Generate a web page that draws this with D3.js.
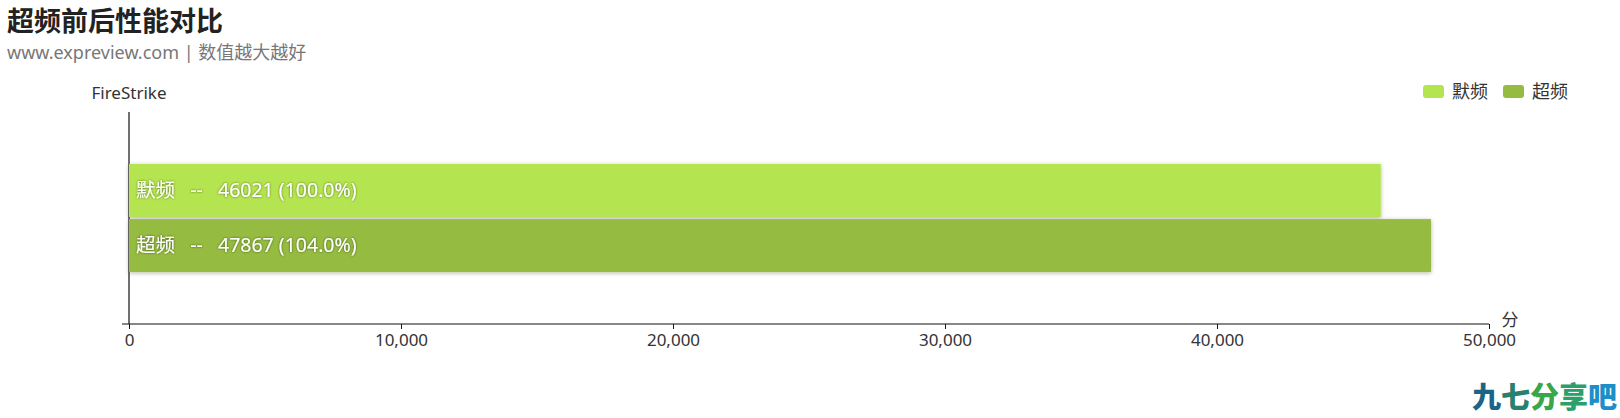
<!DOCTYPE html>
<html><head><meta charset="utf-8">
<script src="https://cdn.jsdelivr.net/npm/d3@7/dist/d3.min.js"></script>
<style>
body{margin:0;background:#fff;}
svg{font-family:"Segoe UI","Noto Sans","Noto Sans CJK SC",sans-serif;}
</style></head><body>
<svg id="c" width="1620" height="418"></svg>
<script>
const categories = ["FireStrike"];
const seriesNames = ["默频", "超频"];
const seriesValues = [46021, 47867];
const seriesPercent = ["100.0%", "104.0%"];
const seriesColors = ["#b4e44f", "#95bb41"];
const xTicks = [0, 10000, 20000, 30000, 40000, 50000];
const xUnit = "分";

(function(){
const svg = d3.select("#c");
const defs = svg.append("defs");
const f = defs.append("filter").attr("id","sh").attr("x","-5%").attr("y","-20%").attr("width","110%").attr("height","140%");
f.append("feDropShadow").attr("dx",0).attr("dy",1).attr("stdDeviation",2).attr("flood-color","#000").attr("flood-opacity",0.3);
const tf = defs.append("filter").attr("id","tsh").attr("x","-10%").attr("y","-30%").attr("width","120%").attr("height","160%");
tf.append("feDropShadow").attr("dx",0).attr("dy",0).attr("stdDeviation",1.2).attr("flood-color","#000").attr("flood-opacity",0.55);

// title
svg.append("text").attr("x",7).attr("y",31).attr("font-size",27).attr("font-weight","bold").attr("fill","#222")
  .attr("font-family","'Noto Sans CJK SC',sans-serif").text("超频前后性能对比");
svg.append("text").attr("x",7).attr("y",59).attr("font-size",18).attr("fill","#777").text("www.expreview.com | 数值越大越好");

const pl = 129, pr = 1489, pt = 112, pb = 324;
const x = d3.scaleLinear().domain([0, 50000]).range([pl, pr]);
const y = d3.scaleBand().domain(categories).range([pt, pb]).paddingInner(0).paddingOuter(0.48);
const yS = d3.scaleBand().domain(seriesNames).range([0, y.bandwidth()]).paddingInner(0.04);

// y axis line
svg.append("line").attr("x1",pl).attr("x2",pl).attr("y1",pt).attr("y2",pb).attr("stroke","#111").attr("stroke-width",1.2);
svg.append("text").attr("x",pl).attr("y",99).attr("text-anchor","middle").attr("font-size",17).attr("fill","#333").text(categories[0]);

// x axis
const xa = svg.append("g").attr("transform",`translate(0,${pb})`)
  .call(d3.axisBottom(x).tickValues(xTicks).tickFormat(d3.format(",")).tickSize(5).tickSizeOuter(0));
xa.select(".domain").attr("stroke","#111").attr("stroke-width",1.2).attr("d",`M${pl-7},0H${pr}`);
xa.selectAll(".tick line").attr("stroke","#111");
xa.selectAll(".tick text").attr("font-size",17).attr("fill","#333").attr("dy","0.85em").attr("font-family","'Segoe UI','Noto Sans',sans-serif");
svg.append("text").attr("x",pr+21).attr("y",pb+2).attr("text-anchor","middle").attr("font-size",17).attr("fill","#333").text(xUnit);

// bars
const g = svg.append("g");
seriesNames.forEach((s,i)=>{
  const yy = y(categories[0]) + yS(s);
  g.append("rect").attr("x",x(0)).attr("y",yy).attr("width",x(seriesValues[i])-x(0)).attr("height",yS.bandwidth())
    .attr("fill",seriesColors[i]).attr("filter","url(#sh)");
  g.append("text").attr("x",x(0)+7).attr("y",yy+yS.bandwidth()/2).attr("dy","0.35em")
    .attr("font-size",19.5).attr("fill","#fff").attr("filter","url(#tsh)").style("white-space","pre")
    .text(`${s}   --   ${seriesValues[i]} (${seriesPercent[i]})`);
});

// legend
const lg = svg.append("g");
const lx = [1423, 1503];
seriesNames.forEach((s,i)=>{
  lg.append("rect").attr("x",lx[i]).attr("y",85).attr("width",21).attr("height",13).attr("rx",3).attr("fill",seriesColors[i]);
  lg.append("text").attr("x",lx[i]+29).attr("y",92).attr("dy","0.35em").attr("font-size",18).attr("fill","#333").text(s);
});

// watermark
const wm = ["九","七","分","享","吧"];
const wc = ["#1c6487","#2a7f6e","#3aa64a","#2aa06a","#1a8fc8"];
const w = svg.append("text").attr("x",1472).attr("y",408).attr("font-size",29).attr("font-weight","900")
  .attr("font-family","'Noto Sans CJK SC',sans-serif");
wm.forEach((c,i)=>w.append("tspan").attr("fill",wc[i]).text(c));
})();
</script>
</body></html>
